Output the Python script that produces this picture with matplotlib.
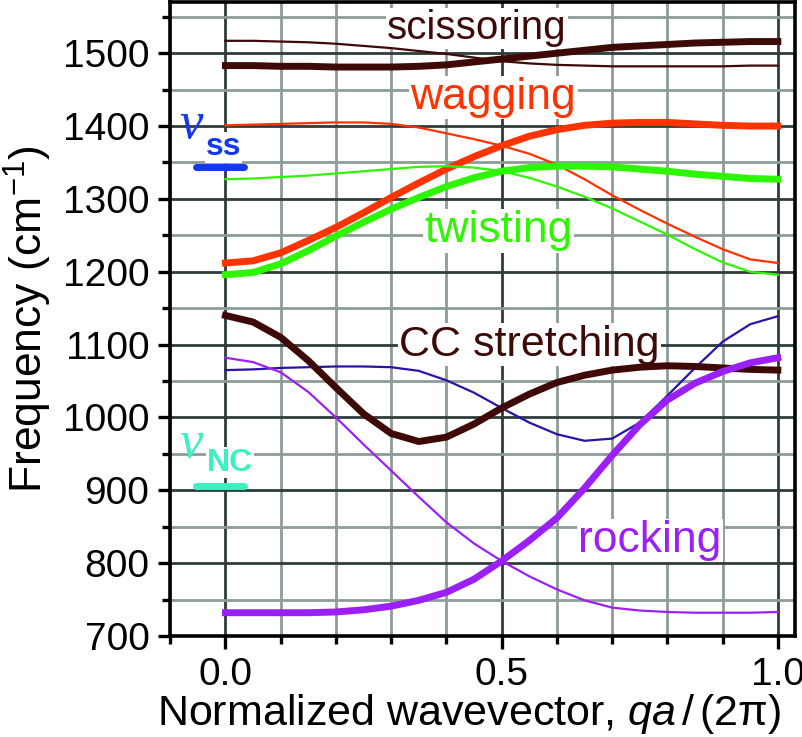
import numpy as np
import matplotlib
matplotlib.use("Agg")
import matplotlib.pyplot as plt
from matplotlib.ticker import MultipleLocator

plt.rcParams['font.family'] = ['Liberation Sans', 'DejaVu Sans']
plt.rcParams['mathtext.fontset'] = 'custom'
plt.rcParams['mathtext.rm'] = 'Liberation Sans'
plt.rcParams['mathtext.it'] = 'Liberation Sans:italic'

# Data (wavevector in steps of 0.05)
q = [0.0, 0.05, 0.1, 0.15, 0.2, 0.25, 0.3, 0.35, 0.4, 0.45, 0.5,
     0.55, 0.6, 0.65, 0.7, 0.75, 0.8, 0.85, 0.9, 0.95, 1.0]

sciss_thick = [1483, 1483, 1482, 1482, 1481, 1481, 1481, 1482, 1484, 1488, 1492,
               1496, 1500, 1504, 1508, 1510, 1512, 1514, 1515, 1516, 1516]
sciss_thin = [1517, 1517, 1516, 1515, 1513, 1510, 1507, 1503, 1499, 1494, 1489,
              1486, 1484, 1483, 1482, 1482, 1482, 1482, 1482, 1483, 1483]

wag_thick = [1212, 1215, 1226, 1243, 1261, 1281, 1302, 1322, 1341, 1358, 1373,
             1386, 1395, 1401, 1404, 1405, 1405, 1403, 1401, 1400, 1400]
wag_thin = [1401, 1402, 1403, 1404, 1405, 1405, 1403, 1398, 1390, 1382, 1373,
            1362, 1347, 1327, 1305, 1285, 1266, 1248, 1231, 1217, 1212]

twist_thick = [1196, 1199, 1211, 1229, 1249, 1268, 1286, 1302, 1317, 1329, 1338,
               1343, 1345, 1345, 1344, 1341, 1338, 1334, 1331, 1328, 1327]
twist_thin = [1327, 1328, 1330, 1332, 1335, 1338, 1341, 1344, 1345, 1343, 1338,
              1329, 1317, 1303, 1287, 1269, 1251, 1231, 1213, 1200, 1196]

cc_thick = [1140, 1131, 1110, 1078, 1041, 1005, 978, 967, 973, 991, 1013,
            1032, 1048, 1058, 1065, 1069, 1071, 1070, 1068, 1066, 1065]
cc_thin = [1065, 1066, 1068, 1069, 1070, 1070, 1069, 1064, 1051, 1034, 1013,
           993, 977, 968, 971, 993, 1030, 1068, 1104, 1128, 1139]

rock_thick = [732, 732, 732, 732, 733, 736, 741, 749, 760, 778, 803,
              831, 862, 903, 948, 990, 1024, 1047, 1063, 1075, 1082]
rock_thin = [1082, 1076, 1062, 1035, 1000, 963, 927, 891, 856, 827, 803,
             782, 764, 749, 739, 735, 733, 732, 732, 732, 733]

labels = ['scissoring', 'wagging', 'twisting', 'CC stretching', 'rocking']
label_x = [0.455, 0.485, 0.494, 0.55, 0.768]
label_y = [1534, 1439, 1256, 1100, 831]

nu_ss = 1344
nu_nc = 906

brown = '#3d0a08'
orange = '#ff3300'
green = '#2ef500'
indigo = '#2c12a8'
purple = '#9b20f5'

fig = plt.figure(figsize=(8.03, 7.37), dpi=100)
ax = fig.add_axes([0.212, 0.137, 0.778, 0.86])

thin = 1.6
thick = 5.0
ax.plot(q, sciss_thin, color=brown, lw=thin, zorder=4)
ax.plot(q, sciss_thick, color=brown, lw=thick, zorder=4)
ax.plot(q, wag_thin, color=orange, lw=thin, zorder=4)
ax.plot(q, wag_thick, color=orange, lw=thick, zorder=4)
ax.plot(q, twist_thin, color=green, lw=thin, zorder=4)
ax.plot(q, twist_thick, color=green, lw=thick, zorder=4)
ax.plot(q, cc_thin, color=indigo, lw=thin, zorder=4)
ax.plot(q, cc_thick, color=brown, lw=thick, zorder=4)
ax.plot(q, rock_thin, color=purple, lw=thin, zorder=4)
ax.plot(q, rock_thick, color=purple, lw=thick, zorder=4)

label_colors = [brown, orange, green, brown, purple]
label_sizes = [29, 32, 32, 31, 32]
for t, x, y, c, s in zip(labels, label_x, label_y, label_colors, label_sizes):
    ax.text(x, y, t, color=c, fontsize=s, ha='center', va='center', zorder=3,
            bbox=dict(facecolor='white', edgecolor='none', pad=1))

# nu_ss and nu_NC markers
ss_col = '#1438ee'
nc_col = '#3cf0c0'
ax.plot([-0.054, 0.033], [nu_ss, nu_ss], color=ss_col, lw=5, solid_capstyle='round', zorder=4)
ax.plot([-0.054, 0.033], [nu_nc, nu_nc], color=nc_col, lw=5, solid_capstyle='round', zorder=4)
ax.text(-0.062, 1402, 'ν', color=ss_col, fontsize=38, family='Liberation Serif',
        style='italic', ha='center', va='center', zorder=3)
ax.text(-0.004, 1371, 'ss', color=ss_col, fontsize=23, fontweight='bold', ha='center',
        va='center', zorder=3, bbox=dict(facecolor='white', edgecolor='none', pad=0.5))
ax.text(-0.062, 964, 'ν', color=nc_col, fontsize=38, family='Liberation Serif',
        style='italic', ha='center', va='center', zorder=3)
ax.text(0.008, 938, 'NC', color=nc_col, fontsize=23, fontweight='bold', ha='center',
        va='center', zorder=3, bbox=dict(facecolor='white', edgecolor='none', pad=0.5))

ax.set_xlim(-0.1, 1.031)
ax.set_ylim(700, 1570)
ax.xaxis.set_major_locator(MultipleLocator(0.5))
ax.xaxis.set_minor_locator(MultipleLocator(0.1))
ax.yaxis.set_major_locator(MultipleLocator(100))
ax.yaxis.set_minor_locator(MultipleLocator(50))
ax.xaxis.set_major_formatter(matplotlib.ticker.FormatStrFormatter('%.1f'))

ax.set_axisbelow(True)
ax.grid(which='major', color='#2f3c3b', lw=2.0)
ax.grid(which='minor', color='#8e9c98', lw=2.0)

for sp in ax.spines.values():
    sp.set_linewidth(2.6)
ax.tick_params(which='major', direction='out', length=9, width=2.4, labelsize=28, pad=6)
ax.tick_params(which='minor', direction='out', length=6, width=2.4)

ax.set_xlabel('Normalized wavevector, $qa\\,/\\,$(2π)', fontsize=31)
ax.xaxis.set_label_coords(0.478, -0.088)
ax.set_ylabel('Frequency (cm$^{-1}$)', fontsize=32, labelpad=6)

fig.savefig('out.png', dpi=100)
